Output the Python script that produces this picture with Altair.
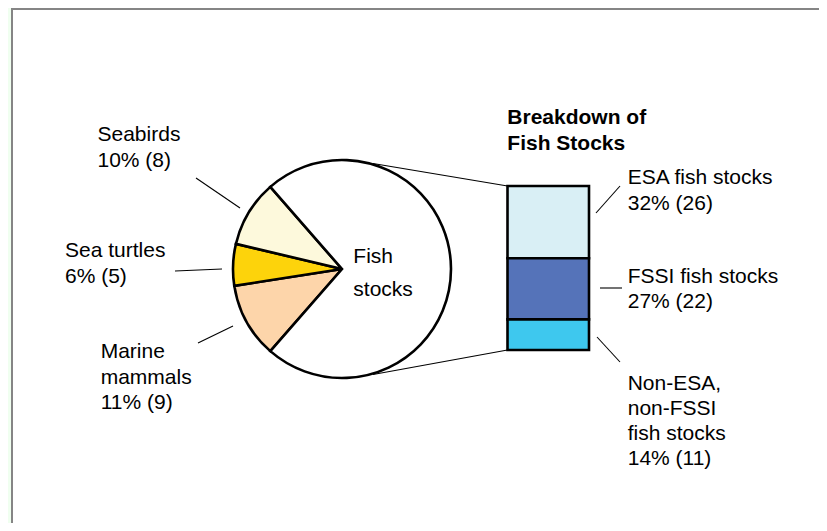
import math
import altair as alt
import pandas as pd

# ---------------- data ----------------
pie_labels = ["Marine mammals", "Sea turtles", "Seabirds", "Fish stocks"]
pie_values = [9, 5, 8, 59]
fish_labels = ["ESA fish stocks", "FSSI fish stocks", "Non-ESA, non-FSSI fish stocks"]
fish_values = [26, 22, 11]

# ---------------- styles ----------------
pie_colors = ["#fdd5aa", "#fdd30b", "#fdf9dc", "#ffffff"]
fish_colors = ["#d9eff5", "#5573b9", "#3ec8ee"]
FONT = "Liberation Sans"
FS = 21
W, H = 811, 515

total = sum(pie_values) + 0  # 81 overall
grand = sum(pie_values[:3]) + sum(fish_values)
fish_total = sum(fish_values)

def pct(v):
    return f"{round(100 * v / grand)}% ({v})"

# pie: small slices centred on the left (theta = 1.5*pi)
small = sum(pie_values[:3])
start = 1.5 * math.pi - math.pi * small / total
pie_df = pd.DataFrame({
    "label": pie_labels,
    "value": pie_values,
    "ord": list(range(len(pie_labels))),
    "col": pie_colors,
})

fish_df = pd.DataFrame({
    "label": fish_labels,
    "value": fish_values,
    "ord": list(range(len(fish_labels))),
    "col": fish_colors,
})

# ---------------- layout (plot-area pixels) ----------------
CX, CY, R = 334, 261, 109
BAR_X0, BAR_X1, BAR_Y0, BAR_Y1 = 499.5, 581, 178, 342

segments = pd.DataFrame([
    # leader lines
    (188, 170, 232, 200),
    (167, 263, 214, 261),
    (190, 335, 225, 318),
    (588, 205, 612, 178),
    (592, 280, 614, 280),
    (589, 329, 612, 354),
    # connectors pie -> bar
    (365, 155.5, BAR_X0, BAR_Y0),
    (365, 366.5, BAR_X0, BAR_Y1),
], columns=["x1", "y1", "x2", "y2"])

label_blocks = [
    (["Seabirds", pct(pie_values[2])], 89.5, 132.7, 26),
    (["Sea turtles", pct(pie_values[1])], 57, 248.7, 26.5),
    (["Marine", "mammals", pct(pie_values[0])], 92.7, 350.3, 25.5),
    (["Fish", "stocks"], 345.3, 255.3, 32.7),
    (["ESA fish stocks", pct(fish_values[0])], 619.7, 176, 26),
    (["FSSI fish stocks", pct(fish_values[1])], 619.7, 275.3, 25),
    (["Non-ESA,", "non-FSSI", "fish stocks", pct(fish_values[2])], 619.7, 382, 25),
]
rows = []
for lines, x, y0, lh in label_blocks:
    for i, t in enumerate(lines):
        rows.append({"x": x, "y": y0 + i * lh, "text": t})
text_df = pd.DataFrame(rows)

title_df = pd.DataFrame({"x": [499.3, 499.3], "y": [116, 142],
                         "text": ["Breakdown of", "Fish Stocks"]})

dummy = pd.DataFrame({"a": [0]})

# ---------------- layers ----------------
panel = alt.Chart(dummy).mark_rect(fill="white").encode(
    x=alt.value(4), x2=alt.value(W), y=alt.value(0), y2=alt.value(H))
border_left = alt.Chart(dummy).mark_rule(color="#858585", strokeWidth=2).encode(
    x=alt.value(4), y=alt.value(0), y2=alt.value(H))
border_top = alt.Chart(dummy).mark_rule(color="#858585", strokeWidth=2).encode(
    x=alt.value(3), x2=alt.value(W), y=alt.value(1))

pie = alt.Chart(pie_df).mark_arc(outerRadius=R, stroke="black", strokeWidth=2.6).encode(
    theta=alt.Theta("value:Q", stack=True,
                    scale=alt.Scale(range=[start, start + 2 * math.pi])),
    order=alt.Order("ord:Q"),
    fill=alt.Fill("col:N", scale=None),
    x=alt.value(CX), y=alt.value(CY),
)

bar = alt.Chart(fish_df).transform_window(
    cum="sum(value)", sort=[alt.SortField("ord")]
).transform_calculate(
    start="datum.cum - datum.value"
).mark_rect(stroke="black", strokeWidth=2.6).encode(
    y=alt.Y("start:Q", scale=alt.Scale(domain=[0, fish_total], range=[BAR_Y0, BAR_Y1]), axis=None),
    y2="cum:Q",
    x=alt.value(BAR_X0), x2=alt.value(BAR_X1),
    fill=alt.Fill("col:N", scale=None),
)

lines = alt.Chart(segments).mark_rule(color="black", strokeWidth=1.1).encode(
    x=alt.X("x1:Q", scale=None, axis=None), x2="x2:Q",
    y=alt.Y("y1:Q", scale=None, axis=None), y2="y2:Q",
)

labels = alt.Chart(text_df).mark_text(
    align="left", baseline="alphabetic", font=FONT, fontSize=FS, color="black"
).encode(
    x=alt.X("x:Q", scale=None, axis=None),
    y=alt.Y("y:Q", scale=None, axis=None),
    text="text:N",
)

title = alt.Chart(title_df).mark_text(
    align="left", baseline="alphabetic", font=FONT, fontSize=FS,
    fontWeight="bold", color="black"
).encode(
    x=alt.X("x:Q", scale=None, axis=None),
    y=alt.Y("y:Q", scale=None, axis=None),
    text="text:N",
)

chart = alt.layer(
    panel, border_left, border_top, pie, bar, lines, labels, title
).resolve_scale(
    x="independent", y="independent"
).properties(
    width=W, height=H, padding=0, autosize="none", background="#f0fff0"
).configure_view(stroke=None)

chart.save("out.html", embed_options={"renderer": "svg", "actions": False})
